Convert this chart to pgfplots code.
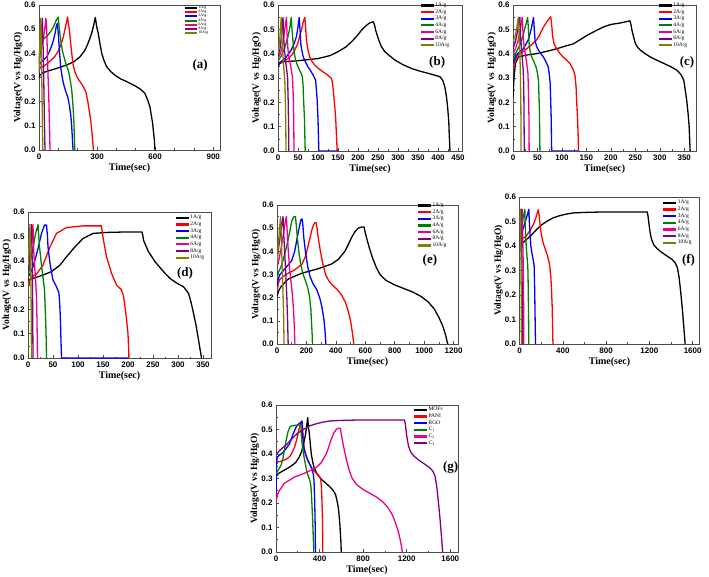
\documentclass[border=0pt]{standalone}
\usepackage{fontspec}
\setmainfont{Liberation Serif}
\setsansfont{Liberation Sans}
\usepackage{pgfplots}
\usepackage{pgfplotstable}
\pgfplotsset{compat=1.18}

\definecolor{cgreen}{RGB}{0,128,0}
\definecolor{cpurple}{RGB}{128,0,128}
\definecolor{colive}{RGB}{128,128,0}

\pgfplotstableread{
t v
0 0.30
5 0.31
20 0.32
60 0.33
100 0.34
143 0.352
180 0.365
212 0.386
235 0.41
250 0.435
262 0.46
272 0.483
282 0.515
291 0.549
298 0.51
306 0.483
315 0.44
324 0.40
336 0.37
349 0.345
370 0.325
392 0.31
420 0.295
453 0.283
480 0.272
504 0.262
530 0.248
547 0.234
560 0.21
573 0.179
581 0.14
587 0.11
592 0.07
596 0.041
599 0
}\tabA

\pgfplotstableread{
t v
0 0.35
5 0.36
15 0.367
50 0.371
100 0.38
130 0.392
150 0.408
170 0.428
184 0.449
197 0.472
209 0.497
220 0.515
230 0.527
238 0.531
241 0.52
244 0.497
251 0.46
258 0.43
267 0.408
280 0.39
292 0.374
312 0.355
334 0.339
355 0.328
376 0.319
395 0.31
405 0.305
412 0.29
417 0.264
421 0.225
424 0.181
427 0.12
428 0.071
430 0
}\tabB

\pgfplotstableread{
t v
0 0.22
2 0.30
5 0.36
11 0.387
30 0.395
48 0.40
70 0.41
89 0.42
110 0.433
123 0.44
137 0.457
151 0.475
168 0.493
185 0.51
200 0.52
219 0.526
239 0.535
241 0.52
243 0.497
247 0.465
250 0.442
255 0.425
260 0.415
270 0.40
280 0.387
294 0.373
308 0.36
322 0.347
335 0.332
343 0.315
349 0.291
352 0.25
355 0.209
358 0.15
360 0.099
362 0
}\tabC

\pgfplotstableread{
t v
0 0.32
10 0.327
30 0.341
47 0.355
64 0.382
77 0.416
94 0.457
110 0.491
130 0.512
157 0.516
197 0.518
228 0.518
230 0.50
231 0.484
236 0.46
241 0.437
254 0.396
271 0.355
284 0.327
298 0.307
311 0.293
321 0.266
326 0.23
331 0.184
336 0.135
341 0.075
347 0
}\tabD

\pgfplotstableread{
t v
0 0.207
15 0.235
30 0.25
75 0.28
166 0.305
280 0.325
370 0.345
416 0.365
461 0.40
485 0.43
507 0.46
530 0.485
552 0.50
575 0.505
592 0.505
600 0.48
612 0.45
630 0.41
650 0.37
675 0.33
700 0.30
740 0.275
800 0.255
860 0.24
920 0.225
980 0.205
1030 0.18
1070 0.15
1100 0.115
1125 0.08
1145 0.04
1160 0
}\tabE

\pgfplotstableread{
t v
5 0.40
25 0.41
60 0.425
100 0.44
157 0.467
200 0.485
250 0.50
310 0.515
373 0.524
430 0.53
496 0.535
600 0.537
774 0.539
1000 0.539
1180 0.539
1188 0.52
1196 0.49
1205 0.46
1218 0.43
1240 0.405
1270 0.39
1310 0.375
1360 0.36
1410 0.345
1440 0.33
1460 0.31
1475 0.27
1490 0.21
1505 0.14
1518 0.07
1530 0
}\tabF

\pgfplotsset{
  gcd/.style={
    scale only axis,
    anchor=south west,
    xmin=0, ymin=0, ymax=0.6,
    ytick={0,0.1,0.2,0.3,0.4,0.5,0.6},
    minor x tick num=1, minor y tick num=1,
    tick align=inside, tick pos=left,
    major tick length=3pt, minor tick length=1.5pt,
    axis line style={line width=0.8pt, black!70},
    every tick/.style={black!70, line width=0.6pt},
    tick label style={font=\sffamily\bfseries\fontsize{8}{8}\selectfont},
    /pgf/number format/assume math mode=true,
    /pgf/number format/1000 sep={},
    yticklabel style={/pgf/number format/.cd, fixed, fixed zerofill, precision=1},
    xlabel={Time(sec)}, ylabel={Voltage(V vs Hg/HgO)},
    xlabel style={font=\bfseries\fontsize{10}{10}\selectfont, at={(axis description cs:0.5,0)}, yshift=-18pt, anchor=center},
    ylabel style={font=\bfseries\fontsize{9.5}{9.5}\selectfont, at={(axis description cs:-0.116,0.5)}, anchor=center},
    legend style={draw=none, fill=none, inner sep=0pt, cells={anchor=west},
      nodes={inner sep=0.6pt}, font=\fontsize{5.5}{5.5}\selectfont, row sep=0.3pt, anchor=north east},
    legend image code/.code={\draw[#1, line width=2.2pt] (0pt,0pt) -- (13pt,0pt);},
    every axis plot/.append style={line width=1.3pt, line join=round},
  },
  smalllegend/.style={
    legend style={font=\fontsize{4}{4}\selectfont, row sep=-1.1pt},
    legend image code/.code={\draw[#1, line width=1.8pt] (0pt,0pt) -- (12pt,0pt);},
  },
}

\newcommand{\panellabel}[3]{\node[font=\bfseries\fontsize{13}{13}\selectfont] at (rel axis cs:#1,#2) {#3};}

\begin{document}
\begin{tikzpicture}[x=1pt,y=1pt]
\path[use as bounding box] (0,0) rectangle (709,576);

% (a)
\begin{axis}[gcd, smalllegend, at={(39pt,426pt)}, width=181pt, height=145pt,
  xmax=935, xtick={0,300,600,900}, minor x tick num=2,
  legend style={at={(axis description cs:0.94,1.0)}}]
\addplot[black] coordinates {(0,0.30) (5,0.31) (20,0.32) (60,0.33) (100,0.34) (143,0.352) (180,0.365) (212,0.386) (235,0.41) (250,0.435) (262,0.46) (272,0.483) (282,0.515) (291,0.549) (298,0.51) (306,0.483) (315,0.44) (324,0.40) (336,0.37) (349,0.345) (370,0.325) (392,0.31) (420,0.295) (453,0.283) (480,0.272) (504,0.262) (530,0.248) (547,0.234) (560,0.21) (573,0.179) (581,0.14) (587,0.11) (592,0.07) (596,0.041) (599,0)};
\addplot[red] coordinates {(0,0.33) (5,0.34) (30,0.35) (60,0.37) (80,0.385) (100,0.41) (115,0.44) (126,0.469) (137,0.51) (148,0.55) (152,0.52) (157,0.497) (165,0.43) (172,0.38) (177,0.35) (187,0.32) (198,0.30) (214,0.28) (229,0.262) (242,0.24) (251,0.207) (260,0.16) (267,0.124) (273,0.075) (277,0.041) (281,0)};
\addplot[blue] coordinates {(0,0.31) (5,0.36) (20,0.37) (40,0.386) (55,0.41) (65,0.43) (75,0.455) (83,0.483) (90,0.515) (95,0.524) (99,0.49) (103,0.44) (108,0.385) (112,0.345) (118,0.31) (126,0.276) (137,0.245) (148,0.22) (156,0.19) (163,0.152) (168,0.11) (172,0.055) (176,0)};
\addplot[cgreen] coordinates {(0,0.36) (5,0.42) (12,0.45) (25,0.46) (45,0.475) (60,0.49) (75,0.51) (88,0.535) (99,0.55) (104,0.51) (108,0.48) (114,0.445) (120,0.414) (129,0.385) (138,0.359) (147,0.34) (155,0.317) (162,0.285) (169,0.248) (174,0.2) (177,0.166) (180,0.12) (182,0.069) (185,0)};
\addplot[magenta] coordinates {(0,0.36) (5,0.40) (12,0.43) (20,0.45) (28,0.49) (36,0.545) (39,0.51) (43,0.41) (47,0.30) (50,0.234) (53,0.14) (55,0.07) (57,0)};
\addplot[cpurple] coordinates {(0,0.33) (4,0.40) (10,0.46) (17,0.545) (19,0.50) (22,0.40) (25,0.27) (28,0.12) (31,0)};
\addplot[colive] coordinates {(0,0.32) (3,0.40) (6,0.48) (9,0.545) (11,0.48) (13,0.38) (15,0.26) (17,0.14) (19,0.03) (20,0)};
\legend{1A/g,2A/g,3A/g,4A/g,6A/g,8A/g,10A/g}
\panellabel{0.89}{0.586}{(a)}
\end{axis}

% (b)
\begin{axis}[gcd, at={(278pt,425pt)}, width=184pt, height=146pt,
  xmax=460, xtick={0,50,...,450},
  legend style={at={(axis description cs:0.935,1.02)}}]
\addplot[black] table {\tabB};
\addplot[red] coordinates {(0,0.36) (10,0.365) (25,0.38) (35,0.395) (42,0.415) (49,0.44) (54,0.47) (59,0.5) (63,0.53) (67,0.549) (69,0.51) (71,0.456) (75,0.415) (79,0.387) (85,0.368) (92,0.353) (102,0.338) (113,0.325) (124,0.312) (134,0.298) (137,0.27) (139,0.236) (142,0.18) (144,0.14) (146,0.07) (148,0)};
\addplot[blue] coordinates {(0,0.36) (10,0.37) (20,0.385) (33,0.415) (40,0.44) (46,0.47) (50,0.51) (53,0.549) (55,0.5) (57,0.44) (60,0.41) (63,0.387) (69,0.365) (75,0.346) (82,0.328) (88,0.312) (94,0.291) (96,0.25) (98,0.209) (100,0.13) (101,0.071) (102,0) (150,0)};
\addplot[cgreen] coordinates {(0,0.37) (8,0.39) (16,0.42) (25,0.47) (30,0.51) (33,0.549) (35,0.5) (38,0.44) (41,0.40) (44,0.374) (49,0.35) (54,0.332) (58,0.318) (61,0.305) (63,0.26) (64,0.209) (66,0.14) (67,0.07) (68,0)};
\addplot[magenta] coordinates {(0,0.38) (6,0.40) (12,0.44) (17,0.50) (21,0.549) (23,0.47) (25,0.415) (28,0.38) (32,0.346) (36,0.305) (37.5,0.25) (38.5,0.209) (39.5,0.1) (40,0)};
\addplot[cpurple] coordinates {(0,0.39) (5,0.42) (9,0.48) (12.5,0.549) (14,0.47) (16,0.42) (19,0.37) (22,0.33) (24,0.30) (25.5,0.2) (26.5,0.1) (27,0)};
\addplot[colive] coordinates {(0,0.40) (4,0.45) (8,0.549) (9.5,0.47) (11,0.42) (13,0.38) (15,0.33) (17,0.29) (18.5,0.2) (19.5,0.1) (20,0)};
\legend{1A/g,2A/g,3A/g,4A/g,6A/g,8A/g,10A/g}
\panellabel{0.865}{0.61}{(b)}
\end{axis}

% (c)
\begin{axis}[gcd, at={(513pt,425pt)}, width=183pt, height=146pt,
  xmax=374, xtick={0,50,...,350},
  legend style={at={(axis description cs:0.956,1.02)}}]
\addplot[black] table {\tabC};
\addplot[red] coordinates {(0,0.34) (4,0.37) (8,0.39) (18,0.405) (28,0.42) (38,0.437) (48,0.456) (54,0.475) (59,0.497) (64,0.515) (69,0.53) (77,0.552) (79,0.52) (81,0.47) (84,0.44) (88,0.425) (96,0.40) (103,0.385) (110,0.373) (116,0.36) (120,0.346) (124,0.33) (127,0.305) (129,0.26) (130,0.209) (132,0.13) (133,0.071) (134,0)};
\addplot[blue] coordinates {(0,0.36) (5,0.39) (12,0.405) (21,0.42) (31,0.456) (37,0.5) (42,0.549) (43.5,0.5) (45,0.456) (48,0.43) (52,0.415) (57,0.40) (62,0.387) (67,0.368) (72,0.346) (74.5,0.31) (76,0.277) (77,0.21) (78,0.14) (79,0) (135,0)};
\addplot[cgreen] coordinates {(0,0.38) (5,0.40) (10,0.42) (15,0.44) (20,0.47) (25,0.51) (30,0.549) (31.5,0.5) (33,0.44) (35,0.41) (38,0.387) (42,0.37) (47,0.346) (50,0.32) (52,0.291) (53,0.23) (54,0.168) (54.5,0.08) (55,0)};
\addplot[magenta] coordinates {(0,0.40) (5,0.42) (10,0.45) (15,0.50) (19,0.55) (20.5,0.48) (22,0.44) (25,0.40) (28,0.36) (30.5,0.32) (31.5,0.25) (32.5,0.15) (33,0)};
\addplot[cpurple] coordinates {(0,0.42) (5,0.45) (10,0.5) (14,0.55) (15.5,0.47) (17,0.43) (19,0.38) (21,0.33) (22,0.26) (22.5,0.15) (23,0)};
\addplot[colive] coordinates {(0,0.45) (4,0.47) (8,0.51) (11,0.55) (12.5,0.47) (14,0.40) (15,0.33) (16,0.2) (16.5,0)};
\legend{1A/g,2A/g,3A/g,4A/g,6A/g,8A/g,10A/g}
\panellabel{0.951}{0.61}{(c)}
\end{axis}

% (d)
\begin{axis}[gcd, at={(28pt,218pt)}, width=183pt, height=146pt,
  xmax=366, xtick={0,50,...,350},
  legend style={at={(axis description cs:0.967,0.983)}}]
\addplot[black] table {\tabD};
\addplot[red] coordinates {(2,0.30) (5,0.33) (17,0.345) (30,0.382) (44,0.457) (57,0.512) (77,0.536) (110,0.543) (147,0.543) (149,0.51) (151,0.484) (157,0.416) (167,0.348) (177,0.30) (187,0.28) (191,0.255) (194,0.211) (197,0.16) (200,0.10) (202,0)};
\addplot[blue] coordinates {(0,0.33) (5,0.35) (10,0.375) (15,0.41) (20,0.45) (27,0.512) (33,0.546) (37,0.546) (39,0.5) (40,0.457) (44,0.389) (50,0.32) (57,0.293) (62,0.266) (64,0.2) (65,0.143) (66,0.07) (67,0) (200,0)};
\addplot[cgreen] coordinates {(0,0.33) (5,0.40) (10,0.45) (15,0.51) (20,0.548) (21.5,0.5) (23,0.457) (26,0.40) (29,0.348) (33,0.28) (34.5,0.2) (35.5,0.143) (36.5,0.07) (37,0)};
\addplot[magenta] coordinates {(0,0.36) (4,0.42) (7,0.48) (10,0.548) (11,0.46) (13,0.38) (15,0.33) (17,0.25) (18,0.15) (19,0)};
\addplot[cpurple] coordinates {(0,0.35) (3,0.42) (5,0.48) (7,0.548) (8,0.45) (9,0.3) (9.5,0.15) (10,0)};
\addplot[colive] coordinates {(0,0.38) (2,0.45) (4,0.548) (5,0.45) (6,0.3) (6.5,0.15) (7,0)};
\legend{1A/g,2A/g,3A/g,4A/g,6A/g,8A/g,10A/g}
\panellabel{0.858}{0.582}{(d)}
\end{axis}

% (e)
\begin{axis}[gcd, at={(277pt,232pt)}, width=181pt, height=139pt,
  xmax=1230, xtick={0,200,...,1200},
  legend style={at={(axis description cs:0.94,1.02)}}]
\addplot[black] table {\tabE};
\addplot[red] coordinates {(0,0.23) (8,0.26) (20,0.28) (60,0.30) (120,0.32) (170,0.345) (195,0.38) (210,0.42) (225,0.46) (240,0.50) (255,0.522) (265,0.525) (272,0.50) (280,0.46) (295,0.40) (310,0.35) (330,0.30) (350,0.275) (375,0.255) (410,0.235) (440,0.21) (465,0.18) (485,0.14) (500,0.10) (512,0.05) (522,0)};
\addplot[blue] coordinates {(0,0.25) (8,0.28) (20,0.30) (60,0.33) (100,0.36) (120,0.40) (135,0.45) (150,0.50) (162,0.535) (170,0.54) (175,0.52) (182,0.46) (195,0.39) (210,0.33) (225,0.29) (245,0.26) (270,0.235) (290,0.20) (305,0.16) (318,0.11) (326,0.06) (332,0)};
\addplot[cgreen] coordinates {(0,0.29) (10,0.31) (25,0.33) (45,0.37) (65,0.42) (85,0.48) (100,0.53) (112,0.548) (125,0.55) (130,0.52) (138,0.46) (148,0.40) (162,0.34) (178,0.30) (195,0.27) (210,0.24) (222,0.20) (230,0.15) (235,0.09) (239,0.04) (241,0)};
\addplot[magenta] coordinates {(0,0.33) (15,0.37) (30,0.42) (45,0.48) (57,0.53) (64,0.55) (68,0.50) (75,0.42) (85,0.33) (95,0.27) (105,0.21) (113,0.14) (118,0.07) (121,0)};
\addplot[cpurple] coordinates {(0,0.36) (12,0.42) (25,0.48) (35,0.53) (41,0.55) (45,0.48) (52,0.40) (60,0.30) (67,0.2) (72,0.1) (76,0)};
\addplot[colive] coordinates {(0,0.35) (8,0.42) (16,0.49) (24,0.55) (28,0.48) (34,0.36) (40,0.24) (45,0.12) (48,0)};
\legend{1A/g,2A/g,3A/g,4A/g,6A/g,8A/g,10A/g}
\panellabel{0.845}{0.6}{(e)}
\end{axis}

% (f)
\begin{axis}[gcd, at={(519.5pt,232pt)}, width=180pt, height=147pt,
  xmax=1663, xtick={0,400,...,1600},
  legend style={at={(axis description cs:0.96,0.983)}}]
\addplot[black] table {\tabF};
\addplot[red] coordinates {(10,0.42) (30,0.43) (60,0.44) (100,0.465) (130,0.49) (155,0.52) (173,0.548) (180,0.53) (188,0.494) (200,0.45) (219,0.412) (240,0.385) (256,0.364) (270,0.34) (280,0.316) (290,0.27) (296,0.22) (302,0.15) (305,0.085) (309,0)};
\addplot[blue] coordinates {(5,0.42) (20,0.45) (40,0.48) (60,0.51) (75,0.53) (86,0.55) (91,0.50) (97,0.45) (105,0.40) (115,0.37) (128,0.34) (135,0.32) (139,0.25) (142,0.17) (145,0.08) (148,0)};
\addplot[cgreen] coordinates {(0,0.43) (10,0.46) (25,0.49) (40,0.53) (49,0.55) (52,0.50) (57,0.44) (65,0.38) (73,0.34) (78,0.30) (81,0.22) (84,0.1) (86,0)};
\addplot[magenta] coordinates {(0,0.44) (10,0.48) (20,0.53) (25,0.55) (27,0.48) (30,0.42) (34,0.34) (37,0.22) (39,0.1) (40,0)};
\addplot[cpurple] coordinates {(0,0.45) (8,0.50) (15,0.55) (17,0.47) (20,0.4) (23,0.3) (26,0.15) (28,0)};
\addplot[colive] coordinates {(0,0.46) (5,0.51) (9,0.55) (11,0.47) (13,0.37) (15,0.25) (17,0.1) (18,0)};
\legend{1A/g,2A/g,3A/g,4A/g,6A/g,8A/g,10A/g}
\panellabel{0.939}{0.571}{(f)}
\end{axis}

% (g)
\begin{axis}[gcd, at={(276pt,24pt)}, width=182pt, height=147pt,
  xmax=1671, xtick={0,400,...,1600},
  legend style={at={(axis description cs:0.92,0.99)}}]
\addplot[black] table {\tabA};
\addplot[red] table {\tabB};
\addplot[blue] table {\tabC};
\addplot[cgreen] table {\tabD};
\addplot[magenta] table {\tabE};
\addplot[cpurple] table {\tabF};
\legend{MOFs,PANI,RGO,\textit{C}\textsubscript{1},\textit{C}\textsubscript{2},\textit{C}\textsubscript{3}}
\panellabel{0.96}{0.578}{(g)}
\end{axis}

\end{tikzpicture}
\end{document}
